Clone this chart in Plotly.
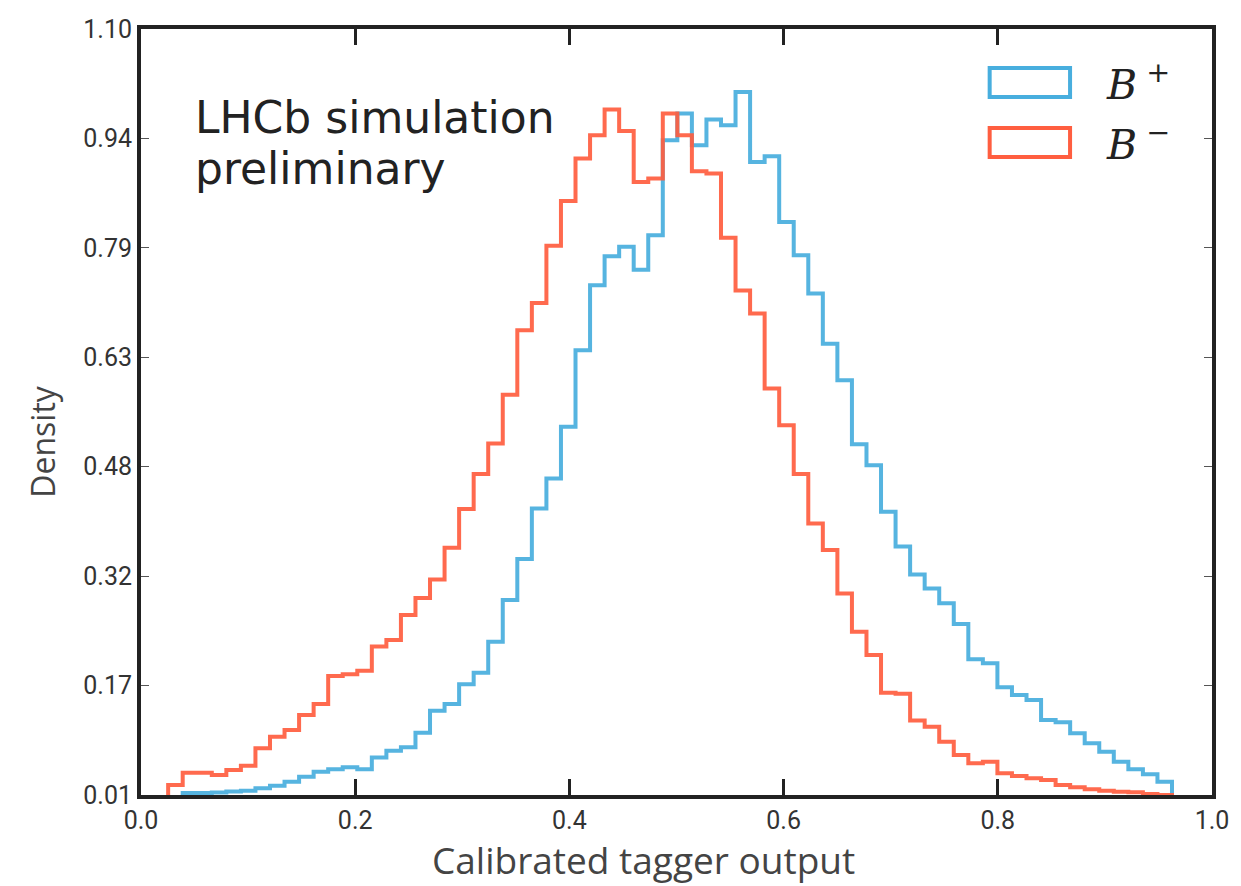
import numpy as np
import plotly.graph_objects as go

# Histogram binning of the calibrated tagger output
bin_start = 0.02535
bin_width = 0.013584
n_bins = 69

# Density per bin, B+ candidates
b_plus = [
    0.000, 0.0128, 0.0128, 0.0136, 0.0150, 0.0161, 0.0195, 0.0232, 0.0289, 0.0360,
    0.0431, 0.0466, 0.0494, 0.0466, 0.0633, 0.0730, 0.0779, 0.0986, 0.1299, 0.1394,
    0.1675, 0.1840, 0.2281, 0.2874, 0.3457, 0.4178, 0.4605, 0.5339, 0.6430, 0.7355,
    0.7767, 0.7900, 0.7575, 0.8066, 0.9417, 0.9797, 0.9346, 0.9712, 0.9631, 1.0104,
    0.9109, 0.9190, 0.8255, 0.7781, 0.7237, 0.6520, 0.6003, 0.5090, 0.4794, 0.4130,
    0.3636, 0.3238, 0.3040, 0.2827, 0.2532, 0.2030, 0.1973, 0.1632, 0.1522, 0.1451,
    0.1167, 0.1134, 0.0978, 0.0835, 0.0716, 0.0574, 0.0466, 0.0394, 0.0289,
]

# Density per bin, B- candidates
b_minus = [
    0.0242, 0.0417, 0.0417, 0.0384, 0.0456, 0.0517, 0.0764, 0.0929, 0.1025, 0.1238,
    0.1394, 0.1793, 0.1817, 0.1868, 0.2212, 0.2305, 0.2660, 0.2902, 0.3168, 0.3618,
    0.4168, 0.4666, 0.5103, 0.5797, 0.6715, 0.7101, 0.7917, 0.8554, 0.9157, 0.9488,
    0.9854, 0.9550, 0.8824, 0.8872, 0.9797, 0.9488, 0.8976, 0.8943, 0.8030, 0.7279,
    0.6952, 0.5885, 0.5363, 0.4666, 0.3965, 0.3585, 0.2969, 0.2423, 0.2091, 0.1555,
    0.1541, 0.1160, 0.1072, 0.0858, 0.0669, 0.0551, 0.0574, 0.0409, 0.0370, 0.0338,
    0.0313, 0.0242, 0.0210, 0.0181, 0.0161, 0.0147, 0.0138, 0.0115, 0.0100,
]

x_tick_vals = [0.0, 0.2, 0.4, 0.6, 0.8, 1.0]
y_tick_labels = ["0.01", "0.17", "0.32", "0.48", "0.63", "0.79", "0.94", "1.10"]
series_names = ["<i>B</i><sup> +</sup>", "<i>B</i><sup> \u2212</sup>"]
caption_lines = ["LHCb simulation", "preliminary"]

BLUE = "#48AEDE"
RED = "#FF5E40"
AX = "#222222"
TXT = "#333333"

W, H = 1241, 886
L, R, T, B = 141, 21, 29, 91


def px_x(p):
    return (p - L) / (W - L - R)


def px_y(p):
    return 1 - (p - T) / (H - T - B)


edges = bin_start + bin_width * np.arange(n_bins + 1)


def step_xy(vals):
    xs = np.concatenate([[edges[0]], edges])
    ys = np.concatenate([[0.0], vals, [0.0]])
    return xs, ys


fig = go.Figure()
for vals, col in [(b_plus, BLUE), (b_minus, RED)]:
    xs, ys = step_xy(np.array(vals))
    fig.add_trace(go.Scatter(
        x=xs, y=ys, mode="lines", line=dict(color=col, width=4, shape="hv"),
        opacity=0.92, showlegend=False, hoverinfo="skip",
    ))

# Legend drawn as outlined boxes with math-style labels
legend_rows = [(68, 97, BLUE, series_names[0]), (128, 157, RED, series_names[1])]
for y0, y1, col, name in legend_rows:
    fig.add_shape(type="rect", xref="paper", yref="paper",
                  x0=px_x(996), x1=px_x(1077), y0=px_y(y1), y1=px_y(y0),
                  line=dict(color=col, width=4), fillcolor="white")
    fig.add_annotation(xref="paper", yref="paper", x=px_x(1111), y=px_y((y0 + y1) / 2 - 1),
                       xanchor="left", yanchor="middle", showarrow=False, text=name,
                       font=dict(family="DejaVu Serif", size=41, color="#222222"))

# Two-line caption, one annotation per line for tighter line spacing
for i, line in enumerate(caption_lines):
    fig.add_annotation(xref="paper", yref="paper", x=px_x(193), y=px_y(90 + 51 * i),
                       xanchor="left", yanchor="top", align="left", showarrow=False,
                       text=line,
                       font=dict(family="DejaVu Sans", size=44, color="#222222"))

# Axis titles
fig.add_annotation(xref="paper", yref="paper", x=px_x(647), y=px_y(859),
                   xanchor="center", yanchor="middle", showarrow=False,
                   text="Calibrated tagger output",
                   font=dict(family="Open Sans", size=37, color="#444444"))
fig.add_annotation(xref="paper", yref="paper", x=px_x(41), y=px_y(441),
                   xanchor="center", yanchor="middle", showarrow=False, textangle=-90,
                   text="Density",
                   font=dict(family="Open Sans", size=32, color="#444444"))

fig.update_layout(
    width=W, height=H,
    margin=dict(l=L, r=R, t=T, b=B),
    paper_bgcolor="white", plot_bgcolor="white",
    font=dict(family="Roboto", color=TXT),
)
fig.update_xaxes(
    range=[0, 1], tickvals=x_tick_vals, tickformat=".1f",
    showgrid=False, zeroline=False,
    showline=True, linewidth=4, linecolor=AX, mirror="ticks",
    ticks="inside", ticklen=16, tickwidth=3, tickcolor=AX,
    tickfont=dict(size=25, color=TXT),
)
fig.update_yaxes(
    range=[0.01, 1.10], tickvals=np.linspace(0.01, 1.10, len(y_tick_labels)),
    ticktext=y_tick_labels,
    showgrid=False, zeroline=False,
    showline=True, linewidth=4, linecolor=AX, mirror="ticks",
    ticks="inside", ticklen=8, tickwidth=1, tickcolor="#555555",
    tickfont=dict(size=25, color=TXT),
)

fig.write_html("out.html")
